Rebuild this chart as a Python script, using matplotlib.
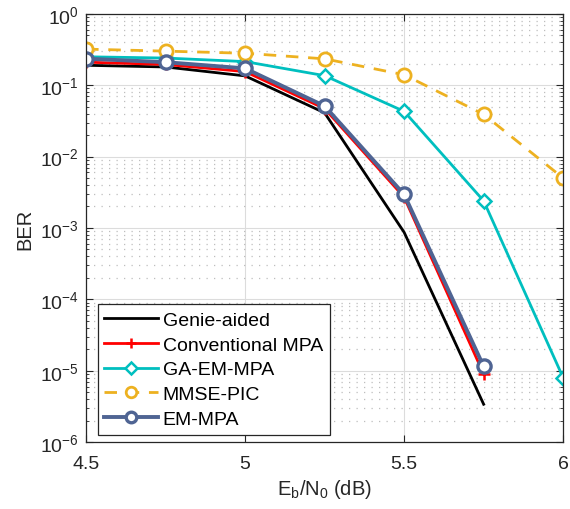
import numpy as np
import matplotlib
matplotlib.use("Agg")
import matplotlib.pyplot as plt
from matplotlib.ticker import FixedLocator, FuncFormatter, NullFormatter

plt.rcParams['font.family'] = ['Liberation Sans', 'DejaVu Sans']
plt.rcParams['mathtext.fontset'] = 'custom'
plt.rcParams['mathtext.rm'] = 'Liberation Sans'
plt.rcParams['mathtext.it'] = 'Liberation Sans'

# Eb/N0 grid (dB)
snr = [4.5, 4.75, 5.0, 5.25, 5.5, 5.75, 6.0]

# BER curves
ber_genie = [0.19, 0.18, 0.135, 0.041, 8.7e-4, 3.4e-6]
ber_conv = [0.21, 0.195, 0.155, 0.047, 2.7e-3, 9.0e-6]
ber_ga_em = [0.25, 0.24, 0.214, 0.136, 0.043, 2.4e-3, 8.0e-6]
ber_mmse = [0.32, 0.30, 0.28, 0.234, 0.14, 0.039, 5.0e-3]
ber_em = [0.235, 0.21, 0.172, 0.051, 2.95e-3, 1.15e-5]

labels = ['Genie-aided', 'Conventional MPA', 'GA-EM-MPA', 'MMSE-PIC', 'EM-MPA']
xticks = [4.5, 5, 5.5, 6]
yexps = [-6, -5, -4, -3, -2, -1, 0]

fig = plt.figure(figsize=(5.7, 5.1), dpi=100)
ax = fig.add_axes([0.151, 0.131, 0.837, 0.840])

lw = 2.0
ax.semilogy(snr[:6], ber_genie, color='black', lw=lw, label=labels[0])
ax.semilogy(snr[:6], ber_conv, color='#FF0000', lw=lw, marker='+', ms=9, mew=1.8,
            label=labels[1])
ax.semilogy(snr, ber_ga_em, color='#00BFBF', lw=lw, marker='D', ms=7.5, mew=1.8,
            mfc='white', label=labels[2])
ax.semilogy(snr, ber_mmse, color='#EDB120', lw=lw, ls=(0, (4.5, 3.5)), marker='o',
            ms=9.5, mew=2.0, mfc='white', label=labels[3])
ax.semilogy(snr[:6], ber_em, color='#4F6493', lw=2.8, marker='o', ms=9.5, mew=2.4,
            mfc='white', label=labels[4])

ax.set_xlim(4.5, 6)
ax.set_ylim(1e-6, 1)
ax.xaxis.set_major_locator(FixedLocator(xticks))
ax.xaxis.set_major_formatter(FuncFormatter(lambda v, p: f'{v:g}'))
major_y = [10.0 ** e for e in yexps]
minor_y = [m * 10.0 ** e for e in yexps[:-1] for m in range(2, 10)]
ax.yaxis.set_major_locator(FixedLocator(major_y))
ax.yaxis.set_minor_locator(FixedLocator(minor_y))
ax.yaxis.set_minor_formatter(NullFormatter())
ax.yaxis.set_major_formatter(FuncFormatter(lambda v, p: r'10$^{%d}$' % round(np.log10(v))))

ax.grid(True, which='major', axis='both', color='#DCDCDC', lw=0.8, ls='-')
ax.grid(True, which='minor', axis='y', color='#BEBEBE', lw=0.9, ls=(0, (1, 5)))
ax.set_axisbelow(True)

ax.tick_params(axis='both', which='both', direction='in', top=True, right=True,
               labelsize=14, colors='#262626')
ax.tick_params(which='major', length=5, width=0.8)
ax.tick_params(which='minor', length=2.5, width=0.6)
ax.tick_params(axis='x', which='major', pad=9)
ax.tick_params(axis='y', which='major', pad=5)
for s in ax.spines.values():
    s.set_color('#262626')
    s.set_linewidth(0.9)

ax.set_xlabel(r'E$_{\mathrm{b}}$/N$_{\mathrm{0}}$ (dB)', fontsize=14.5, color='#262626',
              labelpad=4)
ax.set_ylabel('BER', fontsize=14.5, color='#262626', labelpad=4)

leg = ax.legend(loc='lower left', bbox_to_anchor=(0.016, 0.008), fontsize=14,
                handlelength=2.75, fancybox=False, framealpha=1, edgecolor='#262626',
                borderpad=0.35, labelspacing=0.37, handletextpad=0.25, markerscale=0.8,
                borderaxespad=0.2)
leg.get_frame().set_linewidth(0.9)

fig.savefig('out.png', dpi=100)
